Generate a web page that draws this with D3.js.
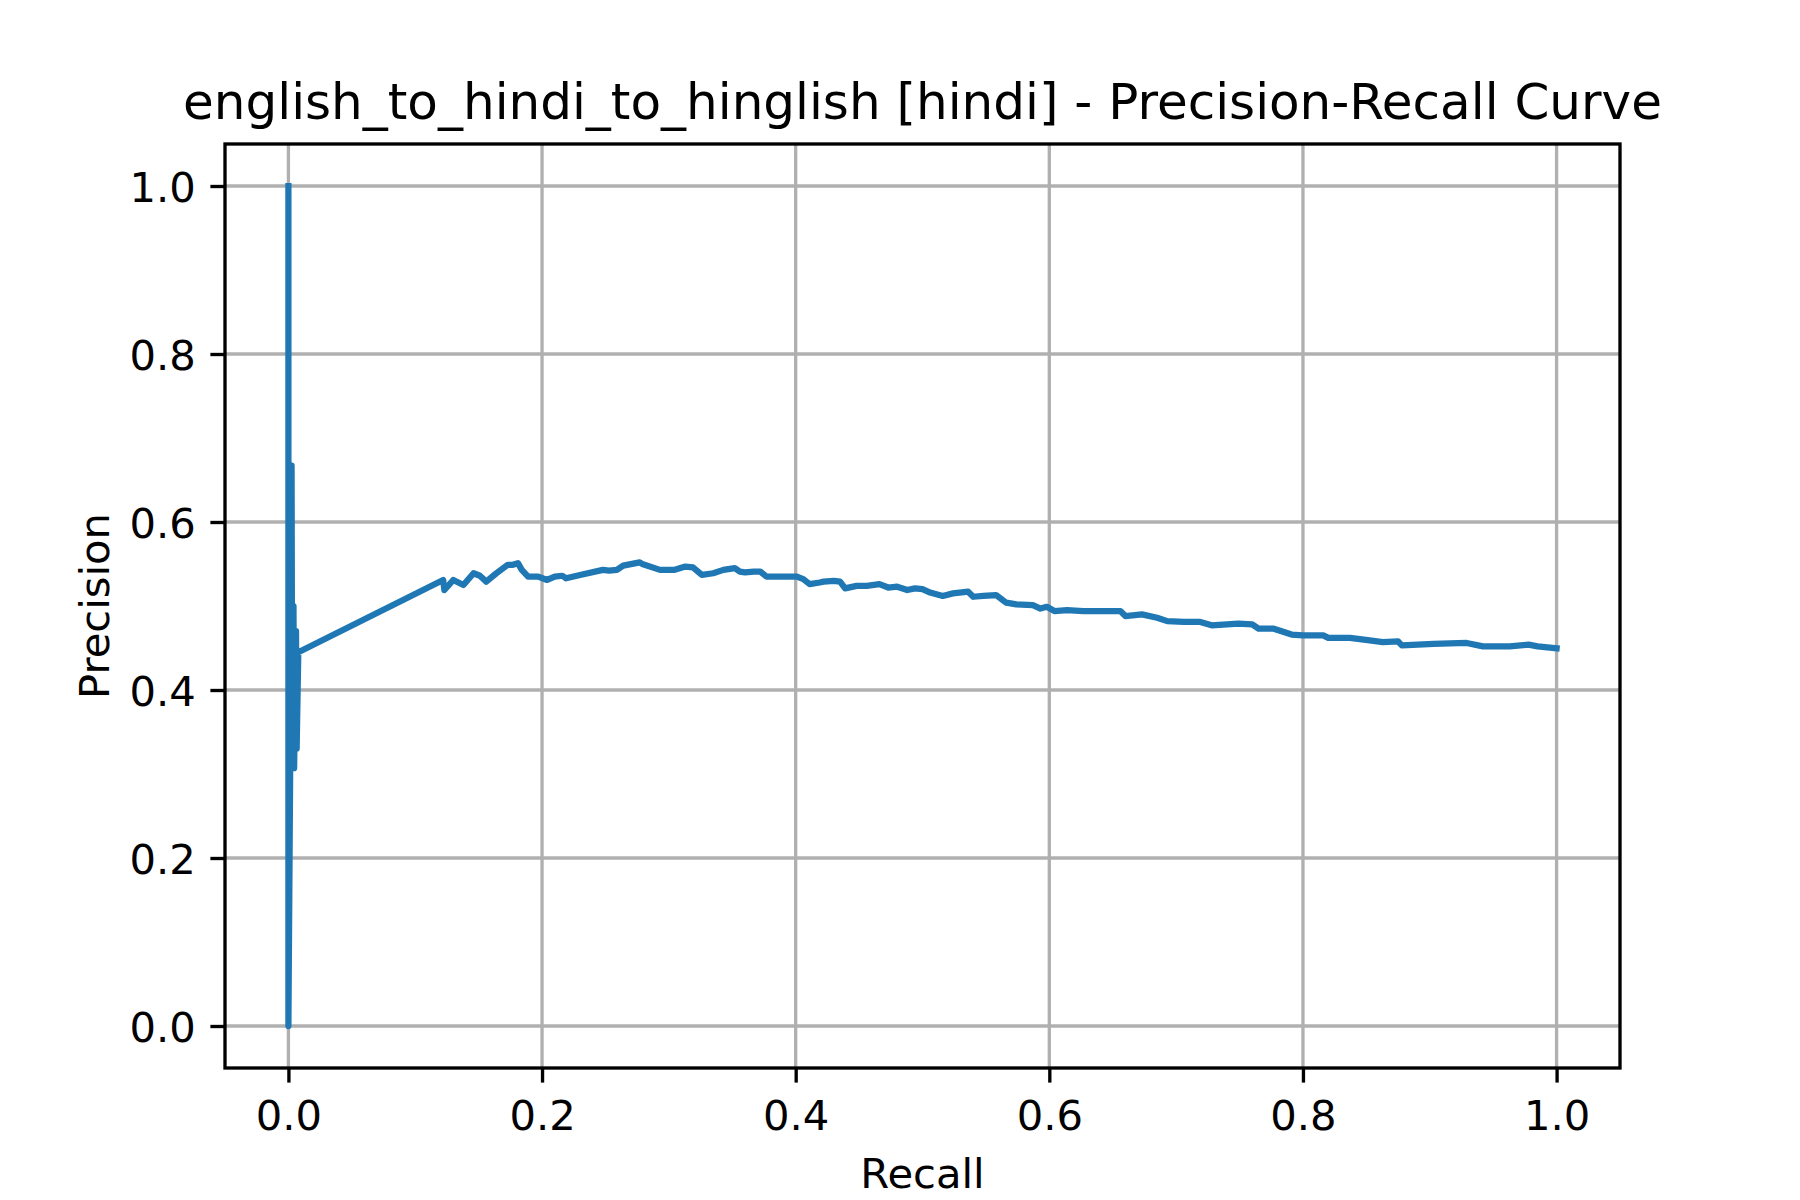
<!DOCTYPE html>
<html>
<head>
<meta charset="utf-8">
<script src="https://cdn.jsdelivr.net/npm/d3@7"></script>
<style>
  html, body { margin: 0; padding: 0; background: #fff; }
  svg { display: block; }
  text { font-family: "DejaVu Sans", sans-serif; fill: #000; }
</style>
</head>
<body>
<svg id="chart" width="1800" height="1200"></svg>
<script>
// ---- Data ----
const recall = [
  0, 0, 0.0015, 0.0025, 0.003, 0.004, 0.0045, 0.006, 0.0065, 0.0078,
  0.122, 0.123, 0.130, 0.134, 0.138, 0.146, 0.151, 0.156, 0.164, 0.173, 0.177, 0.181, 0.184, 0.189,
  0.197, 0.204, 0.210, 0.216, 0.219, 0.230, 0.248, 0.253, 0.259, 0.264, 0.277, 0.279, 0.293, 0.304,
  0.313, 0.319, 0.326, 0.335, 0.343, 0.352, 0.356, 0.360, 0.367, 0.372, 0.377, 0.393, 0.401, 0.406,
  0.411, 0.419, 0.422, 0.430, 0.435, 0.439, 0.448, 0.456, 0.466, 0.473, 0.480, 0.488, 0.494, 0.500,
  0.506, 0.516, 0.524, 0.536, 0.540, 0.548, 0.558, 0.566, 0.574, 0.587, 0.593, 0.598, 0.604, 0.614,
  0.627, 0.640, 0.656, 0.660, 0.673, 0.685, 0.693, 0.706, 0.719, 0.728, 0.749, 0.760, 0.765, 0.777,
  0.785, 0.791, 0.800, 0.816, 0.820, 0.837, 0.848, 0.863, 0.875, 0.878, 0.903, 0.929, 0.942, 0.963,
  0.978, 0.985, 1.000
];
const precision = [
  1.0, 0.0, 0.33, 0.667, 0.31, 0.50, 0.307, 0.47, 0.33, 0.445,
  0.531, 0.519, 0.531, 0.528, 0.525, 0.539, 0.536, 0.529, 0.539, 0.549, 0.549, 0.551, 0.543, 0.535,
  0.535, 0.531, 0.535, 0.536, 0.533, 0.537, 0.543, 0.542, 0.543, 0.548, 0.552, 0.550, 0.543, 0.543,
  0.547, 0.546, 0.537, 0.539, 0.543, 0.545, 0.541, 0.540, 0.541, 0.541, 0.535, 0.535, 0.535, 0.532,
  0.526, 0.528, 0.529, 0.530, 0.529, 0.521, 0.524, 0.524, 0.526, 0.522, 0.523, 0.519, 0.521, 0.520,
  0.516, 0.512, 0.515, 0.517, 0.511, 0.512, 0.513, 0.504, 0.502, 0.501, 0.497, 0.499, 0.494, 0.495,
  0.494, 0.494, 0.494, 0.488, 0.490, 0.486, 0.482, 0.481, 0.481, 0.477, 0.479, 0.478, 0.473, 0.473,
  0.469, 0.466, 0.465, 0.465, 0.462, 0.462, 0.460, 0.457, 0.458, 0.453, 0.455, 0.456, 0.452, 0.452,
  0.454, 0.452, 0.4496
];
const xTicks = [0.0, 0.2, 0.4, 0.6, 0.8, 1.0];
const yTicks = [0.0, 0.2, 0.4, 0.6, 0.8, 1.0];
const titleText = "english_to_hindi_to_hinglish [hindi] - Precision-Recall Curve";
const xLabel = "Recall";
const yLabel = "Precision";

// ---- Layout ----
const W = 1800, H = 1200;
const L = 225, R = 1620, T = 144, B = 1068;
const svg = d3.select("#chart");

const x = d3.scaleLinear().domain([-0.05, 1.05]).range([L, R]);
const y = d3.scaleLinear().domain([-0.05, 1.05]).range([B, T]);

svg.append("rect").attr("width", W).attr("height", H).attr("fill", "#fff");

// Grid
const grid = svg.append("g");
grid.selectAll(".gx").data(xTicks).enter().append("line")
  .attr("x1", d => x(d)).attr("x2", d => x(d)).attr("y1", T).attr("y2", B)
  .attr("stroke", "#b0b0b0").attr("stroke-width", 3.33);
grid.selectAll(".gy").data(yTicks).enter().append("line")
  .attr("y1", d => y(d)).attr("y2", d => y(d)).attr("x1", L).attr("x2", R)
  .attr("stroke", "#b0b0b0").attr("stroke-width", 3.33);

// Line
const pts = recall.map((r, i) => [r, precision[i]]);
const clipId = "clipPlot";
svg.append("clipPath").attr("id", clipId).append("rect")
  .attr("x", L).attr("y", T).attr("width", R - L).attr("height", B - T);
svg.append("path")
  .datum(pts)
  .attr("clip-path", `url(#${clipId})`)
  .attr("fill", "none")
  .attr("stroke", "#1f77b4")
  .attr("stroke-width", 6.25)
  .attr("stroke-linejoin", "round")
  .attr("stroke-linecap", "square")
  .attr("d", d3.line().x(d => x(d[0])).y(d => y(d[1])));

// Axes
const fmt = d3.format(".1f");
const xAxis = d3.axisBottom(x).tickValues(xTicks).tickFormat(fmt).tickSizeInner(14.6).tickSizeOuter(0).tickPadding(10);
const yAxis = d3.axisLeft(y).tickValues(yTicks).tickFormat(fmt).tickSizeInner(14.6).tickSizeOuter(0).tickPadding(14.6);

const gx = svg.append("g").attr("transform", `translate(0,${B})`).call(xAxis);
const gy = svg.append("g").attr("transform", `translate(${L},0)`).call(yAxis);
[gx, gy].forEach(g => {
  g.select(".domain").remove();
  g.selectAll(".tick line").attr("stroke", "#000").attr("stroke-width", 3.33);
  g.selectAll(".tick text").attr("font-family", "DejaVu Sans").attr("font-size", 41.7).attr("fill", "#000");
});
gx.selectAll(".tick text").attr("dy", null).attr("y", 62).attr("dominant-baseline", "auto");
gy.selectAll(".tick text").attr("dy", "0.36em");

// Spines
svg.append("rect").attr("x", L).attr("y", T).attr("width", R - L).attr("height", B - T)
  .attr("fill", "none").attr("stroke", "#000").attr("stroke-width", 3.33);

// Title and labels
svg.append("text").attr("x", (L + R) / 2).attr("y", 119)
  .attr("text-anchor", "middle").attr("font-size", 50).text(titleText);
svg.append("text").attr("x", (L + R) / 2).attr("y", 1188)
  .attr("text-anchor", "middle").attr("font-size", 41.7).text(xLabel);
svg.append("text").attr("transform", `translate(109,${(T + B) / 2}) rotate(-90)`)
  .attr("text-anchor", "middle").attr("font-size", 41.7).text(yLabel);
</script>
</body>
</html>
